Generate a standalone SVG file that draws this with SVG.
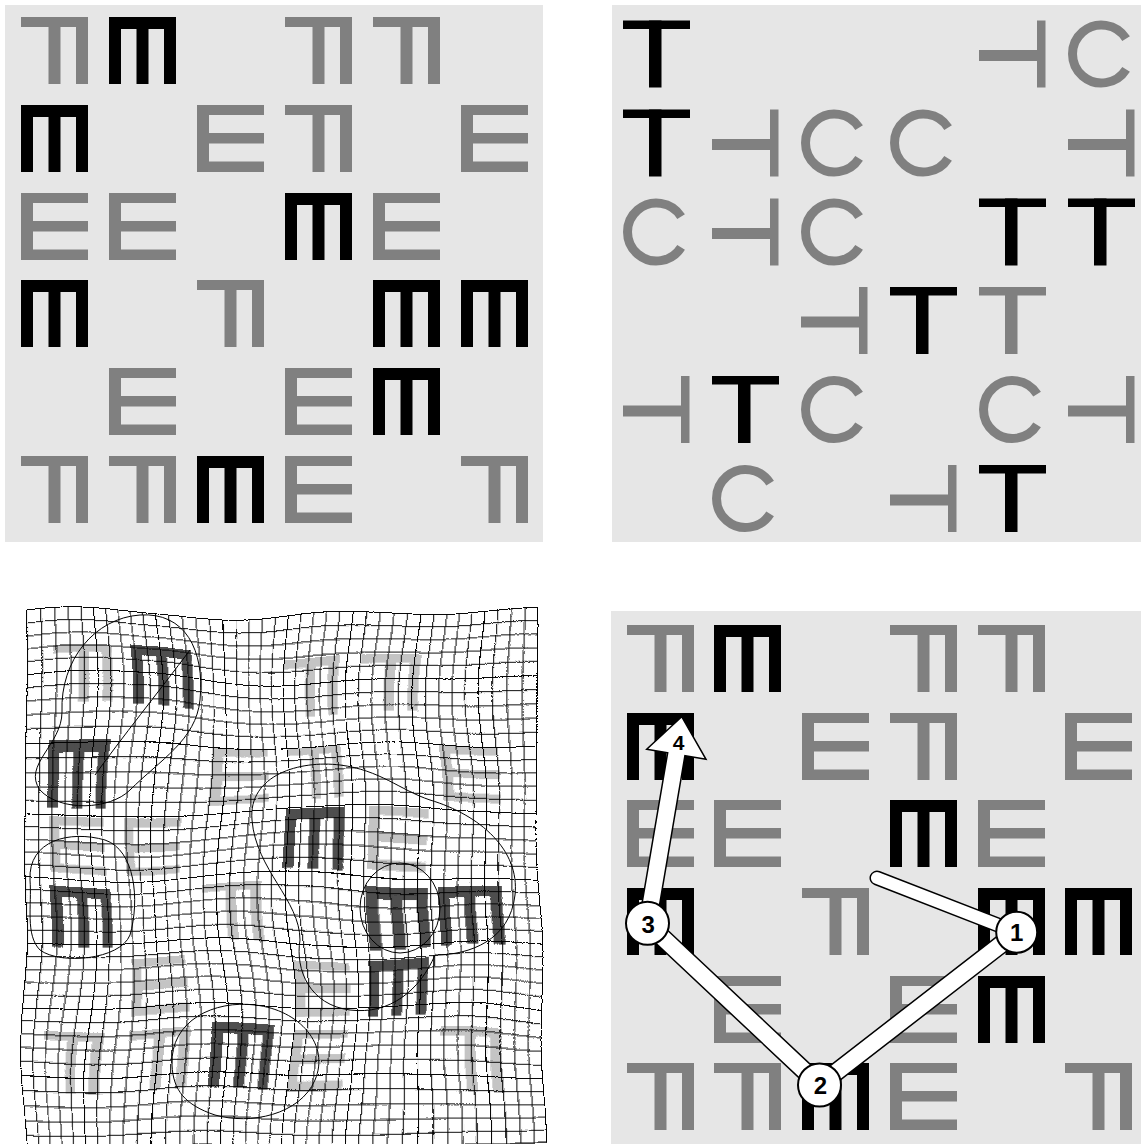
<svg xmlns="http://www.w3.org/2000/svg" xmlns:xlink="http://www.w3.org/1999/xlink" width="1141" height="1144" viewBox="0 0 1141 1144">
<style>
.bg{fill:#e6e6e6}
.g{fill:#808080}
.k{fill:#000}
.lg{fill:#c4c4c4}
.dk{fill:#4e4e4e}
.cg{fill:none;stroke:#808080;stroke-width:9}
.contour{fill:none;stroke:#000;stroke-width:1}
.num{font-family:"Liberation Sans",Arial,sans-serif;font-weight:bold;font-size:24px;text-anchor:middle;fill:#000}
</style>
<defs>
<g id="F"><rect x="0" y="0" width="67" height="10"/><rect x="27.5" y="0" width="12" height="67"/><rect x="55" y="0" width="12" height="67"/></g>
<g id="M"><rect x="0" y="0" width="67" height="12"/><rect x="0" y="0" width="12" height="67"/><rect x="27.5" y="0" width="12" height="67"/><rect x="55" y="0" width="12" height="67"/></g>
<g id="E"><rect x="0" y="0" width="12" height="67"/><rect x="0" y="0" width="67" height="10"/><rect x="0" y="28" width="67" height="10.5"/><rect x="0" y="56.5" width="67" height="10.5"/></g>
<g id="T"><rect x="0" y="0" width="67" height="8.5"/><rect x="26" y="0" width="12.5" height="67"/></g>
<g id="R"><rect x="58" y="0" width="8.5" height="67"/><rect x="0" y="29.5" width="58" height="11"/></g>
<path id="C" d="M58.1 18.1 A29 29 0 1 0 58.1 48.9"/>
<pattern id="grid" patternUnits="userSpaceOnUse" x="23" y="613" width="13.2" height="13.2">
<path d="M0 0.5H13.2M0.5 0V13.2" stroke="#000" stroke-width="1" fill="none"/>
</pattern>
<filter id="warp" filterUnits="userSpaceOnUse" x="0" y="585" width="570" height="559" color-interpolation-filters="sRGB">
<feTurbulence type="fractalNoise" baseFrequency="0.0065" numOctaves="1" seed="4" result="n"/>
<feDisplacementMap in="SourceGraphic" in2="n" scale="34" xChannelSelector="R" yChannelSelector="G"/>
</filter>
</defs>

<g id="panel-top-left">
<rect class="bg" x="5" y="5" width="538" height="537"/>
<use href="#F" class="g" x="21" y="17"/>
<use href="#M" class="k" x="109" y="17"/>
<use href="#F" class="g" x="285" y="17"/>
<use href="#F" class="g" x="373" y="17"/>
<use href="#M" class="k" x="21" y="105"/>
<use href="#E" class="g" x="197" y="105"/>
<use href="#F" class="g" x="285" y="105"/>
<use href="#E" class="g" x="461" y="105"/>
<use href="#E" class="g" x="21" y="193"/>
<use href="#E" class="g" x="109" y="193"/>
<use href="#M" class="k" x="285" y="193"/>
<use href="#E" class="g" x="373" y="193"/>
<use href="#M" class="k" x="21" y="280"/>
<use href="#F" class="g" x="197" y="280"/>
<use href="#M" class="k" x="373" y="280"/>
<use href="#M" class="k" x="461" y="280"/>
<use href="#E" class="g" x="109" y="368"/>
<use href="#E" class="g" x="285" y="368"/>
<use href="#M" class="k" x="373" y="368"/>
<use href="#F" class="g" x="21" y="456"/>
<use href="#F" class="g" x="109" y="456"/>
<use href="#M" class="k" x="197" y="456"/>
<use href="#E" class="g" x="285" y="456"/>
<use href="#F" class="g" x="461" y="456"/>
</g>

<g id="panel-top-right">
<rect class="bg" x="612" y="5" width="529" height="537"/>
<use href="#T" class="k" x="623" y="20.5"/>
<use href="#R" class="g" x="979" y="20.5"/>
<use href="#C" class="cg" x="1068" y="20.5"/>
<use href="#T" class="k" x="623" y="109.5"/>
<use href="#R" class="g" x="712" y="109.5"/>
<use href="#C" class="cg" x="801" y="109.5"/>
<use href="#C" class="cg" x="890" y="109.5"/>
<use href="#R" class="g" x="1068" y="109.5"/>
<use href="#C" class="cg" x="623" y="198.5"/>
<use href="#R" class="g" x="712" y="198.5"/>
<use href="#C" class="cg" x="801" y="198.5"/>
<use href="#T" class="k" x="979" y="198.5"/>
<use href="#T" class="k" x="1068" y="198.5"/>
<use href="#R" class="g" x="801" y="287"/>
<use href="#T" class="k" x="890" y="287"/>
<use href="#T" class="g" x="979" y="287"/>
<use href="#R" class="g" x="623" y="376"/>
<use href="#T" class="k" x="712" y="376"/>
<use href="#C" class="cg" x="801" y="376"/>
<use href="#C" class="cg" x="979" y="376"/>
<use href="#R" class="g" x="1068" y="376"/>
<use href="#C" class="cg" x="712" y="465"/>
<use href="#R" class="g" x="890" y="465"/>
<use href="#T" class="k" x="979" y="465"/>
</g>

<g id="panel-bottom-left">
<g filter="url(#warp)">
<rect x="0" y="590" width="560" height="554" fill="#fff"/>
<g transform="translate(47 652) scale(0.86)"><use href="#F" class="lg"/></g>
<g transform="translate(125 650) scale(0.92)"><use href="#M" class="dk"/></g>
<g transform="translate(288 655) scale(0.86)"><use href="#F" class="lg"/></g>
<g transform="translate(368 655) scale(0.86)"><use href="#F" class="lg"/></g>
<g transform="translate(45 743) scale(0.92)"><use href="#M" class="dk"/></g>
<g transform="translate(208 745) scale(0.86)"><use href="#E" class="lg"/></g>
<g transform="translate(287 745) scale(0.86)"><use href="#F" class="lg"/></g>
<g transform="translate(442 745) scale(0.86)"><use href="#E" class="lg"/></g>
<g transform="translate(47 813) scale(0.86)"><use href="#E" class="lg"/></g>
<g transform="translate(127 813) scale(0.86)"><use href="#E" class="lg"/></g>
<g transform="translate(284 813) scale(0.92)"><use href="#M" class="dk"/></g>
<g transform="translate(370 813) scale(0.86)"><use href="#E" class="lg"/></g>
<g transform="translate(45 885) scale(0.92)"><use href="#M" class="dk"/></g>
<g transform="translate(207 887) scale(0.86)"><use href="#F" class="lg"/></g>
<g transform="translate(368 885) scale(0.92)"><use href="#M" class="dk"/></g>
<g transform="translate(440 885) scale(0.92)"><use href="#M" class="dk"/></g>
<g transform="translate(127 960) scale(0.86)"><use href="#E" class="lg"/></g>
<g transform="translate(287 960) scale(0.86)"><use href="#E" class="lg"/></g>
<g transform="translate(365 958) scale(0.92)"><use href="#M" class="dk"/></g>
<g transform="translate(47 1032) scale(0.86)"><use href="#F" class="lg"/></g>
<g transform="translate(127 1032) scale(0.86)"><use href="#F" class="lg"/></g>
<g transform="translate(205 1028) scale(0.92)"><use href="#M" class="dk"/></g>
<g transform="translate(287 1032) scale(0.86)"><use href="#E" class="lg"/></g>
<g transform="translate(442 1032) scale(0.86)"><use href="#F" class="lg"/></g>
<rect x="23" y="613" width="515" height="528.5" fill="url(#grid)"/>
<path d="M537.5 613V1141.5M23 1141H538" stroke="#000" stroke-width="1" fill="none"/>
</g>
<path class="contour" d="M62 712C60 660 95 618 140 615C185 612 205 650 200 700C196 740 160 760 130 790C110 810 60 812 40 790C22 765 62 745 62 712Z"/>
<path class="contour" d="M190 650C160 690 120 740 95 775"/>
<path class="contour" d="M30 880C28 840 70 830 105 840C135 850 140 900 130 935C120 960 60 965 40 950C25 935 32 905 30 880Z"/>
<path class="contour" d="M252 820C248 775 300 760 340 765C380 770 400 790 430 800C480 815 520 850 515 895C510 940 470 955 435 955C420 990 390 1015 350 1010C310 1005 295 970 300 940C300 900 256 870 252 820Z"/>
<ellipse class="contour" cx="400" cy="908" rx="40" ry="45"/>
<path class="contour" d="M172 1065C170 1020 215 1000 255 1005C300 1010 330 1045 315 1080C300 1115 250 1125 215 1115C185 1105 173 1090 172 1065Z"/>
</g>

<g id="panel-bottom-right">
<rect class="bg" x="611" y="611" width="530" height="533"/>
<use href="#F" class="g" x="627" y="625"/>
<use href="#M" class="k" x="714" y="625"/>
<use href="#F" class="g" x="890" y="625"/>
<use href="#F" class="g" x="978" y="625"/>
<use href="#M" class="k" x="627" y="713"/>
<use href="#E" class="g" x="802" y="713"/>
<use href="#F" class="g" x="890" y="713"/>
<use href="#E" class="g" x="1065" y="713"/>
<use href="#E" class="g" x="627" y="800"/>
<use href="#E" class="g" x="714" y="800"/>
<use href="#M" class="k" x="890" y="800"/>
<use href="#E" class="g" x="978" y="800"/>
<use href="#M" class="k" x="627" y="888"/>
<use href="#F" class="g" x="802" y="888"/>
<use href="#M" class="k" x="978" y="888"/>
<use href="#M" class="k" x="1065" y="888"/>
<use href="#E" class="g" x="714" y="976"/>
<use href="#E" class="g" x="890" y="976"/>
<use href="#M" class="k" x="978" y="976"/>
<use href="#F" class="g" x="627" y="1063"/>
<use href="#F" class="g" x="714" y="1063"/>
<use href="#M" class="k" x="802" y="1063"/>
<use href="#E" class="g" x="890" y="1063"/>
<use href="#F" class="g" x="1065" y="1063"/>
</g>

<g id="connectors">
<path d="M877 878L1016.7 932.3" stroke="#000" stroke-width="15" stroke-linecap="round" fill="none"/>
<path d="M1016.7 932.3L819.5 1085L647.5 923.3L676.3 754.3" stroke="#000" stroke-width="19" stroke-linejoin="round" fill="none"/>
<polygon points="681.7,716.7 646.7,749.3 706,759.3" fill="#fff" stroke="#000" stroke-width="1.5" stroke-linejoin="miter"/>
<path d="M877 878L1016.7 932.3" stroke="#fff" stroke-width="12" stroke-linecap="round" fill="none"/>
<path d="M1016.7 932.3L819.5 1085L647.5 923.3L676.6 752.5" stroke="#fff" stroke-width="16" stroke-linejoin="round" fill="none"/>
</g>

<g id="node-1"><circle cx="1016.7" cy="932.3" r="20.5" fill="#fff" stroke="#000" stroke-width="2"/><text class="num" x="1016.7" y="941">1</text></g>
<g id="node-2"><circle cx="819.5" cy="1085" r="21.5" fill="#fff" stroke="#000" stroke-width="2"/><text class="num" x="820.5" y="1094">2</text></g>
<g id="node-3"><circle cx="647.5" cy="923.3" r="21.5" fill="#fff" stroke="#000" stroke-width="2"/><text class="num" x="648.3" y="932.5">3</text></g>
<g id="node-4"><text class="num" x="678.7" y="749.5" style="font-size:21px">4</text></g>
</svg>
